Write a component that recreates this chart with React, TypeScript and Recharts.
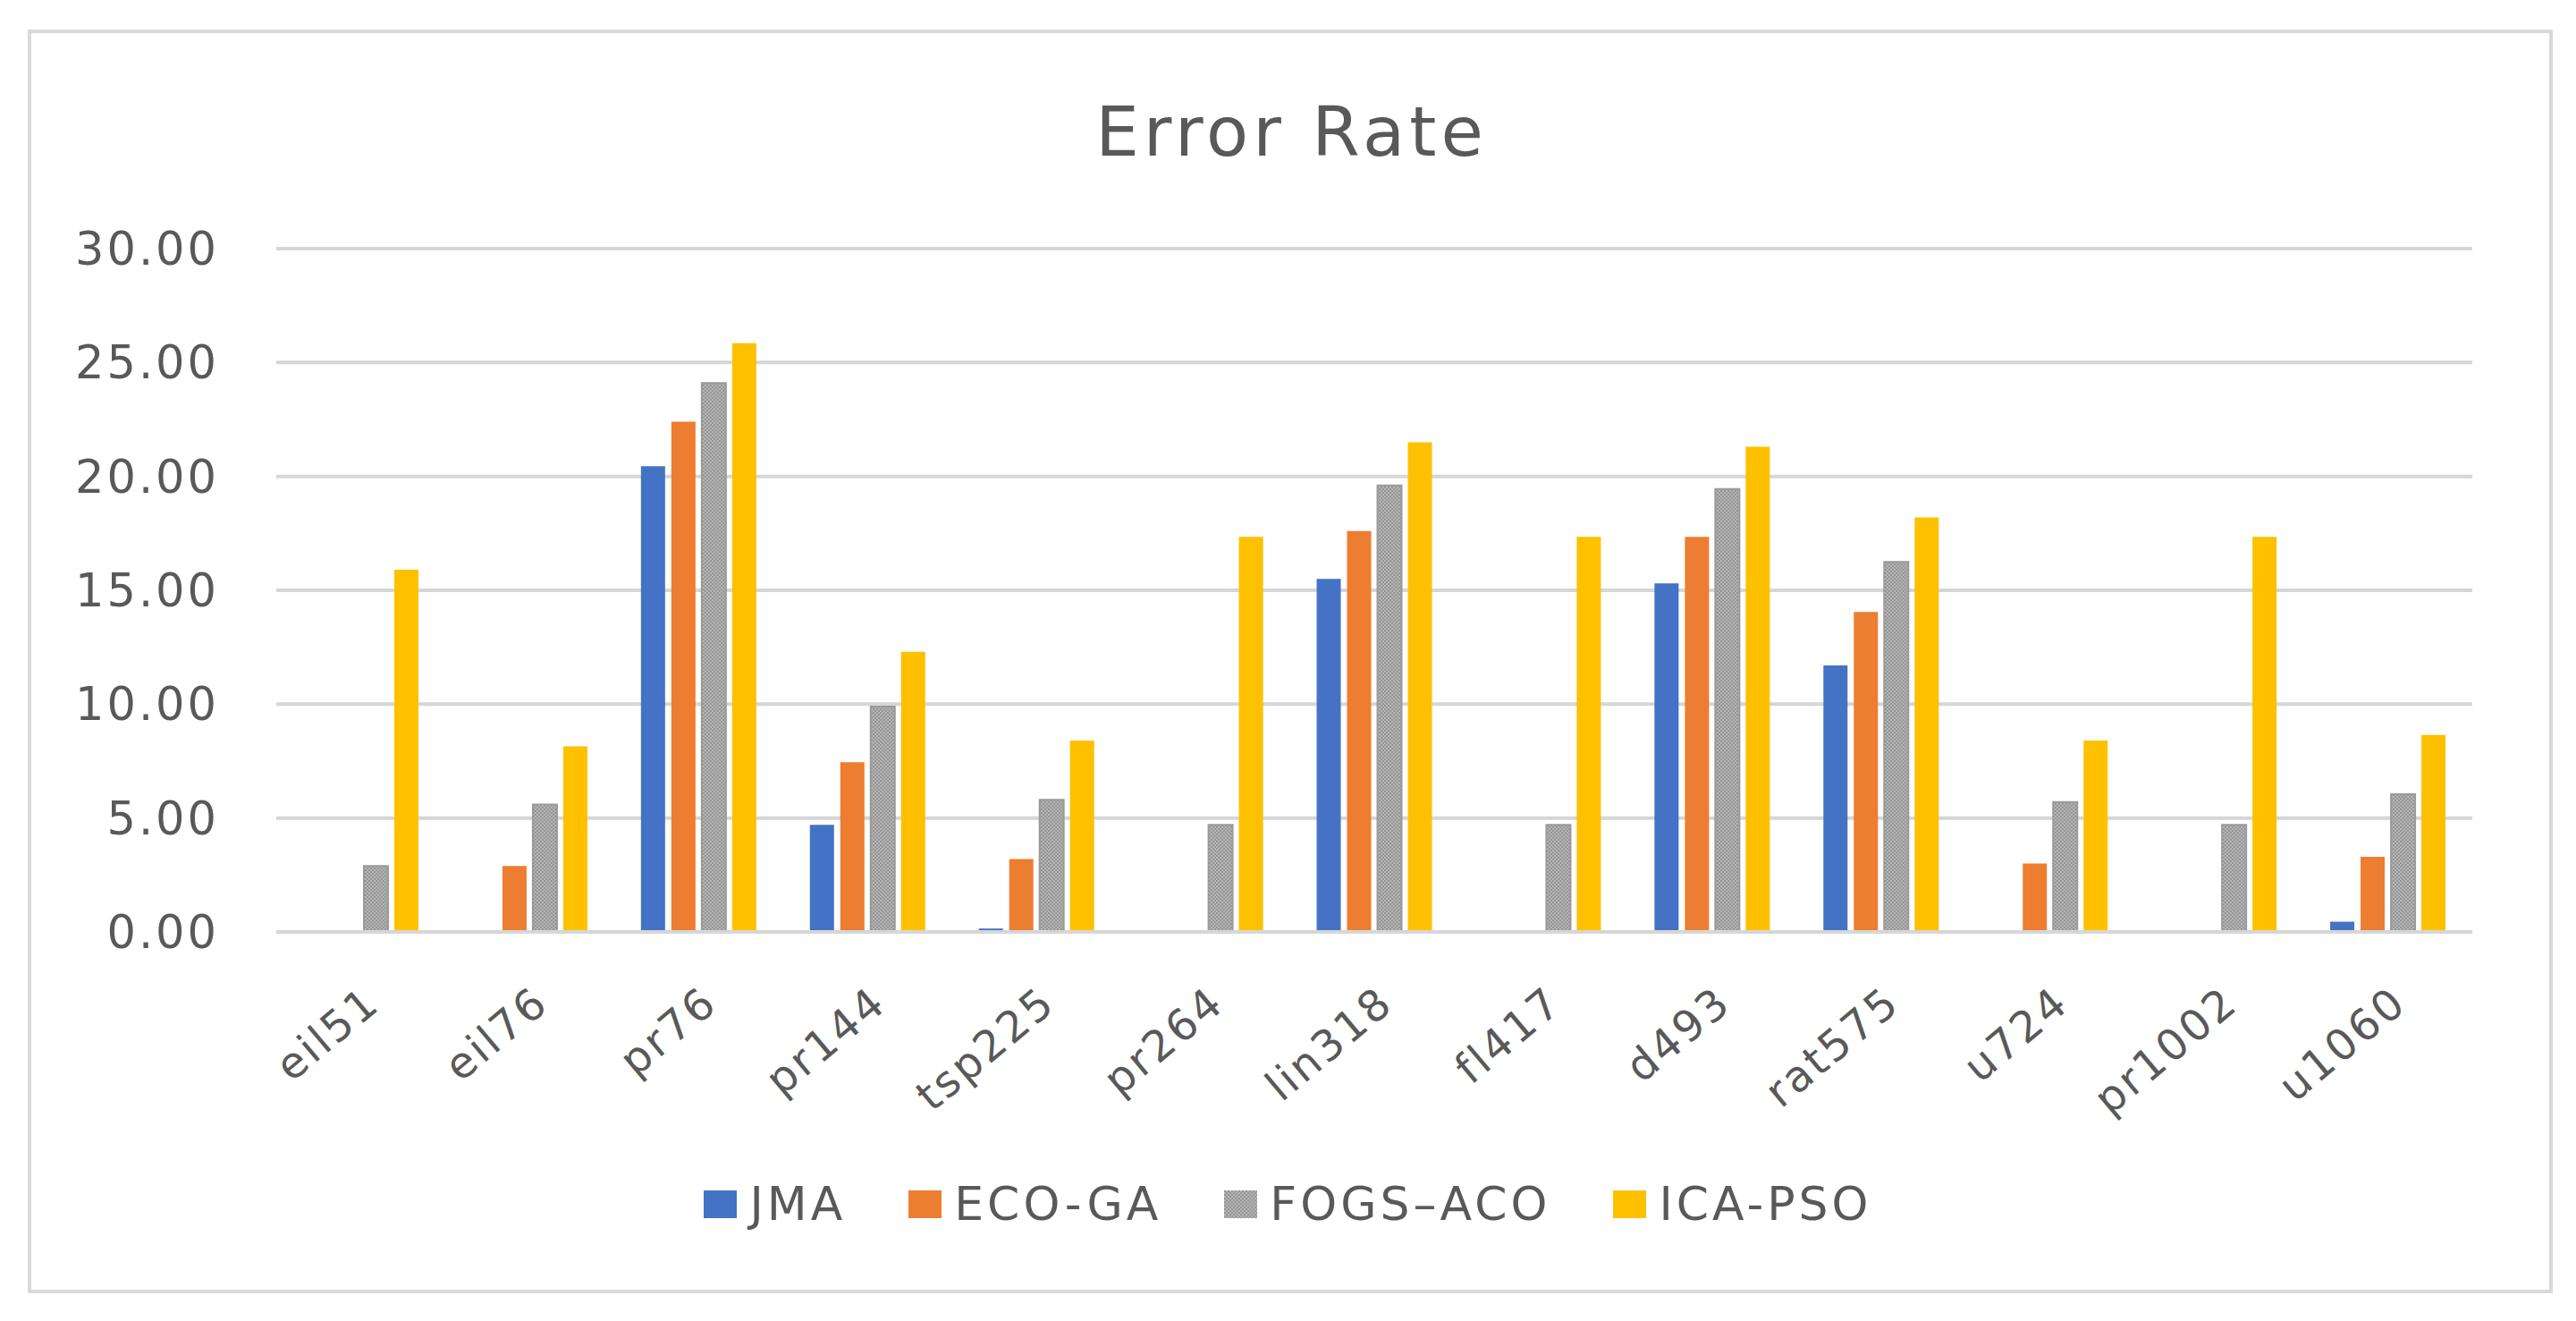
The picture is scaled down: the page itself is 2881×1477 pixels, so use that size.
import { BarChart, Bar, XAxis, YAxis, CartesianGrid, Legend } from "recharts";

const categories = ["eil51", "eil76", "pr76", "pr144", "tsp225", "pr264", "lin318", "fl417", "d493", "rat575", "u724", "pr1002", "u1060"];
const jma = [0, 0, 20.45, 4.7, 0.15, 0, 15.5, 0, 15.3, 11.7, 0, 0, 0.45];
const ecoGa = [0, 2.9, 22.4, 7.45, 3.2, 0, 17.6, 0, 17.35, 14.05, 3.0, 0, 3.3];
const fogsAco = [2.9, 5.6, 24.1, 9.9, 5.8, 4.7, 19.6, 4.7, 19.45, 16.25, 5.7, 4.7, 6.05];
const icaPso = [15.9, 8.15, 25.85, 12.3, 8.4, 17.35, 21.5, 17.35, 21.3, 18.2, 8.4, 17.35, 8.65];
const yTicks = [0, 5, 10, 15, 20, 25, 30];

const series = [
  { key: "JMA", name: "JMA", color: "#4472C4" },
  { key: "ECO", name: "ECO-GA", color: "#ED7D31" },
  { key: "FOGS", name: "FOGS\u2013ACO", color: "#A5A5A5" },
  { key: "ICA", name: "ICA-PSO", color: "#FFC000" },
];

const data = categories.map((c, i) => ({
  name: c,
  JMA: jma[i],
  ECO: ecoGa[i],
  FOGS: fogsAco[i],
  ICA: icaPso[i],
}));

const textColor = "#595959";
const gridColor = "#d6d6d6";
const font = "'DejaVu Sans', sans-serif";

function XTick({ x, y, payload }: any) {
  const ax = x + 24;
  const ay = y + 82;
  return (
    <text
      x={ax}
      y={ay}
      transform={`rotate(-40 ${ax} ${ay})`}
      textAnchor="end"
      fill={textColor}
      fontSize={48}
      fontFamily={font}
      letterSpacing={3}
    >
      {payload.value}
    </text>
  );
}

function LegendContent() {
  return (
    <div style={{ height: 0, overflow: "visible" }}>
      <div
        style={{
          display: "flex",
          justifyContent: "center",
          alignItems: "center",
          fontFamily: font,
          fontSize: 52,
          letterSpacing: 4,
          color: textColor,
          paddingLeft: 70,
        }}
      >
        {series.map((s) => (
          <div key={s.key} style={{ display: "flex", alignItems: "center", marginRight: 70 }}>
            <svg width={37} height={31} style={{ marginRight: 14 }}>
              <rect width={37} height={31} fill={s.key === "FOGS" ? "url(#grayDots)" : s.color} />
            </svg>
            <span>{s.name}</span>
          </div>
        ))}
      </div>
    </div>
  );
}

export default function App() {
  return (
    <div style={{ position: "absolute", left: 0, top: 0, width: 2881, height: 1477, background: "#fff" }}>
      <div
        style={{
          position: "absolute",
          left: 31,
          top: 33,
          width: 2816,
          height: 1405,
          border: "4px solid #d9d9d9",
        }}
      />
      <div
        style={{
          position: "absolute",
          left: 0,
          width: 2881,
          top: 98,
          textAlign: "center",
          fontFamily: font,
          fontSize: 77,
          letterSpacing: 5,
          color: textColor,
          lineHeight: "100px",
          paddingLeft: 4,
        }}
      >
        Error Rate
      </div>
      <div style={{ position: "absolute", left: 0, top: 0 }}>
        <BarChart
          width={2881}
          height={1477}
          data={data}
          margin={{ top: 278, right: 116, left: 209, bottom: 335 }}
          barSize={27}
          barGap={7}
        >
          <defs>
            <pattern id="grayDots" width={4} height={4} patternUnits="userSpaceOnUse">
              <rect width={4} height={4} fill="#b3b3b3" />
              <rect width={2} height={2} fill="#979797" />
              <rect x={2} y={2} width={2} height={2} fill="#979797" />
            </pattern>
          </defs>
          <CartesianGrid vertical={false} stroke={gridColor} strokeWidth={4} />
          <XAxis
            dataKey="name"
            height={100}
            axisLine={{ stroke: gridColor, strokeWidth: 4 }}
            tickLine={false}
            tickSize={0}
            interval={0}
            tick={<XTick />}
          />
          <YAxis
            width={100}
            domain={[0, 30]}
            ticks={yTicks}
            axisLine={false}
            tickLine={false}
            tickSize={0}
            tickMargin={64}
            tickFormatter={(v: number) => v.toFixed(2)}
            tick={{ fill: textColor, fontSize: 51, fontFamily: font, letterSpacing: 3 }}
          />
          <Legend
            content={<LegendContent />}
            wrapperStyle={{ top: 1316, left: 0, bottom: "auto", width: 2881 }}
          />
          {series.map((s) => (
            <Bar
              key={s.key}
              dataKey={s.key}
              name={s.name}
              fill={s.key === "FOGS" ? "url(#grayDots)" : s.color}
              stroke={s.key === "FOGS" ? "#9a9a9a" : undefined}
              strokeWidth={s.key === "FOGS" ? 2 : 0}
              isAnimationActive={false}
            />
          ))}
        </BarChart>
      </div>
    </div>
  );
}
